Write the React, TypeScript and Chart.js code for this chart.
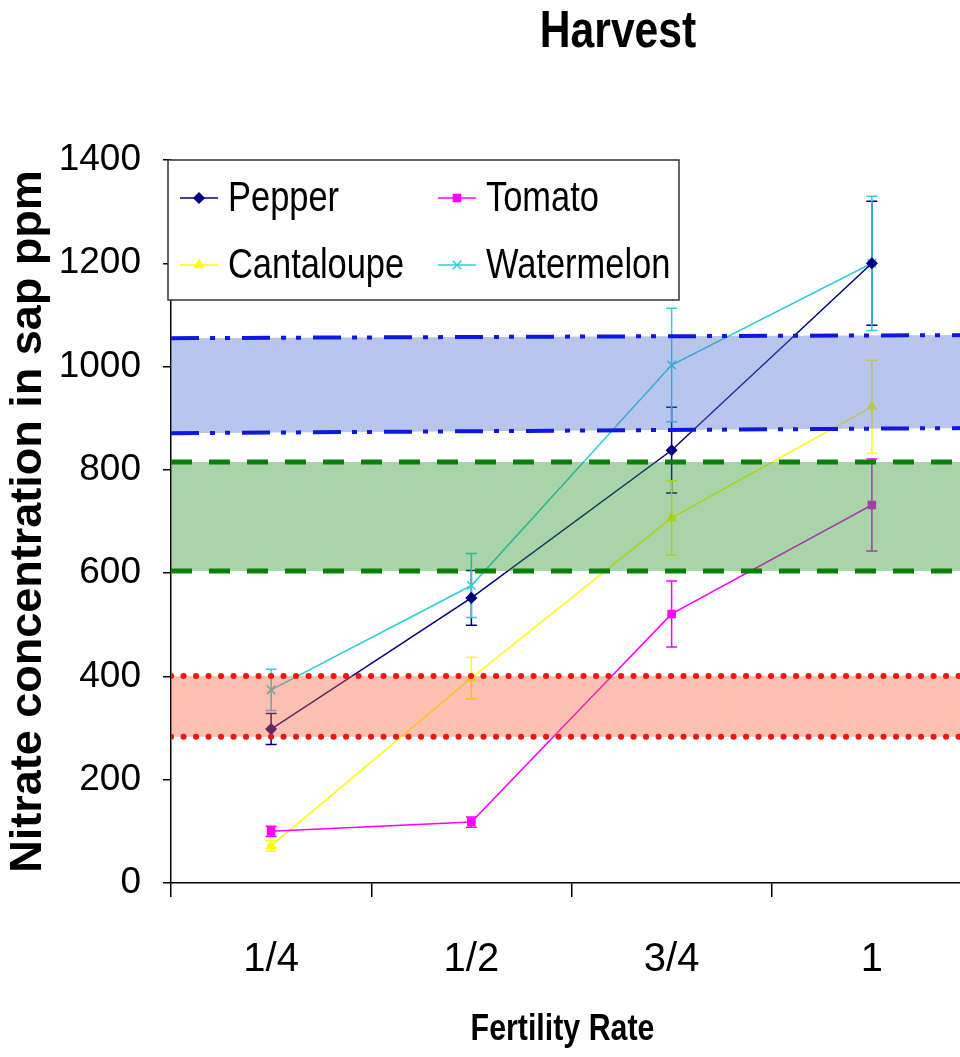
import React, { useEffect, useRef } from "react";
import { Chart, registerables } from "chart.js";
import { drawPoint } from "chart.js/helpers";

Chart.register(...registerables);

const categories = ["1/4", "1/2", "3/4", "1"];
const pepper = [298, 552, 838, 1200];
const pepperErr = [30, 53, 83, 120];
const tomato = [100, 118, 521, 732];
const tomatoErr = [10, 10, 64, 89];
const cantaloupe = [72, 397, 707, 922];
const cantaloupeErr = [10, 40, 72, 90];
const watermelon = [374, 576, 1003, 1200];
const watermelonErr = [40, 62, 110, 130];

const blueTop = [1055, 1061];
const blueBottom = [871, 881];
const greenTop = [815, 815];
const greenBottom = [604, 604];
const redTop = [401, 401];
const redBottom = [283, 283];
const bandX = [0, 1];

const yTicks = [0, 200, 400, 600, 800, 1000, 1200, 1400];

const chartTitle = "Harvest";
const xTitle = "Fertility Rate";
const yTitle = "Nitrate concentration in sap ppm";

const SANS = "'Liberation Sans', Arial, sans-serif";
const SQUEEZE = 0.82;

const series = [
  { label: "Pepper", data: pepper, err: pepperErr, color: "#000080", style: "rectRot", radius: 5 },
  { label: "Tomato", data: tomato, err: tomatoErr, color: "#FF00FF", style: "rect", radius: 5 },
  { label: "Cantaloupe", data: cantaloupe, err: cantaloupeErr, color: "#FFFF00", style: "triangle", radius: 5 },
  { label: "Watermelon", data: watermelon, err: watermelonErr, color: "#2ACFD6", style: "crossRot", radius: 6 },
];

const band = (vals: number[]) => vals.map((v, i) => ({ x: bandX[i], y: v }));

function narrowText(ctx: any, text: string, x: number, y: number, font: string, align: string) {
  ctx.save();
  ctx.translate(x, y);
  ctx.scale(SQUEEZE, 1);
  ctx.font = font;
  ctx.textAlign = align;
  ctx.textBaseline = "middle";
  ctx.fillStyle = "#000";
  ctx.fillText(text, 0, 0);
  ctx.restore();
}

const errorBarPlugin = {
  id: "errorBars",
  beforeDatasetsDraw(chart: any) {
    const ctx = chart.ctx;
    const y = chart.scales.y;
    ctx.save();
    series.forEach((s, i) => {
      const meta = chart.getDatasetMeta(i);
      ctx.strokeStyle = s.color;
      ctx.lineWidth = 1.5;
      meta.data.forEach((pt: any, j: number) => {
        const x = pt.x;
        const yt = y.getPixelForValue(s.data[j] + s.err[j]);
        const yb = y.getPixelForValue(s.data[j] - s.err[j]);
        ctx.beginPath();
        ctx.moveTo(x, yt);
        ctx.lineTo(x, yb);
        ctx.moveTo(x - 5.5, yt);
        ctx.lineTo(x + 5.5, yt);
        ctx.moveTo(x - 5.5, yb);
        ctx.lineTo(x + 5.5, yb);
        ctx.stroke();
      });
    });
    ctx.restore();
  },
};

const textPlugin = {
  id: "texts",
  afterDraw(chart: any) {
    const ctx = chart.ctx;
    const area = chart.chartArea;
    ctx.save();
    narrowText(ctx, chartTitle, 618, 33, `bold 52px ${SANS}`, "center");
    narrowText(ctx, xTitle, (area.left + area.right) / 2 - 9, 1030, `bold 37px ${SANS}`, "center");

    // Legend box
    const L = 168, T = 160, R = 679, B = 300;
    ctx.fillStyle = "#fff";
    ctx.fillRect(L, T, R - L, B - T);
    ctx.strokeStyle = "#333";
    ctx.lineWidth = 1.5;
    ctx.strokeRect(L, T, R - L, B - T);
    const pos = [
      { x: 180, y: 198 },
      { x: 438, y: 198 },
      { x: 180, y: 265 },
      { x: 438, y: 265 },
    ];
    series.forEach((s, i) => {
      const p = pos[i];
      ctx.strokeStyle = s.color;
      ctx.lineWidth = 1.5;
      ctx.beginPath();
      ctx.moveTo(p.x, p.y);
      ctx.lineTo(p.x + 38, p.y);
      ctx.stroke();
      ctx.fillStyle = s.color;
      drawPoint(ctx, { pointStyle: s.style, radius: s.radius, borderWidth: 1.5, rotation: 0 }, p.x + 19, p.y);
      narrowText(ctx, s.label, p.x + 48, p.y + 1, `42px ${SANS}`, "left");
    });
    ctx.restore();
  },
};

export default function App() {
  const ref = useRef<HTMLCanvasElement | null>(null);
  useEffect(() => {
    if (!ref.current) return;
    const dataSets: any[] = series.map((s) => ({
      type: "line",
      label: s.label,
      data: s.data,
      xAxisID: "x",
      yAxisID: "y",
      borderColor: s.color,
      backgroundColor: s.color,
      borderWidth: 1.5,
      pointStyle: s.style,
      pointRadius: s.radius,
      pointBorderWidth: 1.5,
      pointBorderColor: s.color,
      pointBackgroundColor: s.color,
      fill: false,
      tension: 0,
      order: 1,
    }));
    const bandDs = (data: number[], color: string, dash: number[], width: number, cap: string, fill: any, fillColor: string) => ({
      type: "line",
      label: "",
      data: band(data),
      xAxisID: "x2",
      yAxisID: "y",
      borderColor: color,
      borderWidth: width,
      borderDash: dash,
      borderCapStyle: cap,
      pointRadius: 0,
      fill,
      backgroundColor: fillColor,
      tension: 0,
      order: -1,
    });
    dataSets.push(bandDs(redTop, "#F01414", [0.1, 12.4], 6, "round", false, "transparent"));
    dataSets.push(bandDs(redBottom, "#F01414", [0.1, 12.4], 6, "round", "-1", "rgba(245,97,57,0.4)"));
    dataSets.push(bandDs(greenTop, "#0A800A", [21, 17], 5, "butt", false, "transparent"));
    dataSets.push(bandDs(greenBottom, "#0A800A", [21, 17], 5, "butt", "-1", "rgba(40,145,40,0.4)"));
    dataSets.push(bandDs(blueTop, "#1018E0", [28, 11, 5, 10, 5, 12], 4, "butt", false, "transparent"));
    dataSets.push(bandDs(blueBottom, "#1018E0", [28, 11, 5, 10, 5, 12], 4, "butt", "-1", "rgba(77,112,212,0.4)"));

    const chart = new Chart(ref.current, {
      type: "line",
      data: { labels: categories, datasets: dataSets },
      options: {
        responsive: false,
        animation: false,
        layout: { padding: { top: 160, right: 8, left: 0, bottom: 0 } },
        plugins: {
          legend: { display: false },
          title: { display: false },
          tooltip: { enabled: false },
        },
        scales: {
          x: {
            type: "category",
            offset: true,
            grid: { offset: true, drawOnChartArea: false, drawTicks: true, tickLength: 14, color: "#000", lineWidth: 1.5 },
            border: { display: true, color: "#000", width: 1.5 },
            ticks: { color: "#000", font: { family: SANS, size: 40 }, padding: 39, maxRotation: 0 },
            title: { display: false, text: xTitle },
            afterFit: (s: any) => { s.height = 174; },
          },
          x2: { type: "linear", min: 0, max: 1, display: false },
          y: {
            min: 0,
            max: 1400,
            afterBuildTicks: (s: any) => { s.ticks = yTicks.map((v) => ({ value: v })); },
            grid: { drawOnChartArea: false, drawTicks: true, tickLength: 8, color: "#000", lineWidth: 1.5 },
            border: { display: true, color: "#000", width: 1.5 },
            ticks: { color: "#000", font: { family: SANS, size: 37 }, padding: 22, callback: (v: any) => String(v) },
            title: { display: true, text: yTitle, color: "#000", font: { family: SANS, size: 45, weight: "bold" }, padding: { top: 2, bottom: 0 } },
            afterFit: (s: any) => { s.width = 171; },
          },
        },
      },
      plugins: [errorBarPlugin, textPlugin],
    } as any);
    return () => chart.destroy();
  }, []);
  return (
    <div style={{ position: "fixed", left: 0, top: 0, width: 960, height: 1057, overflow: "hidden", background: "#fff" }}>
      <canvas ref={ref} width={980} height={1057} style={{ display: "block" }} />
    </div>
  );
}
